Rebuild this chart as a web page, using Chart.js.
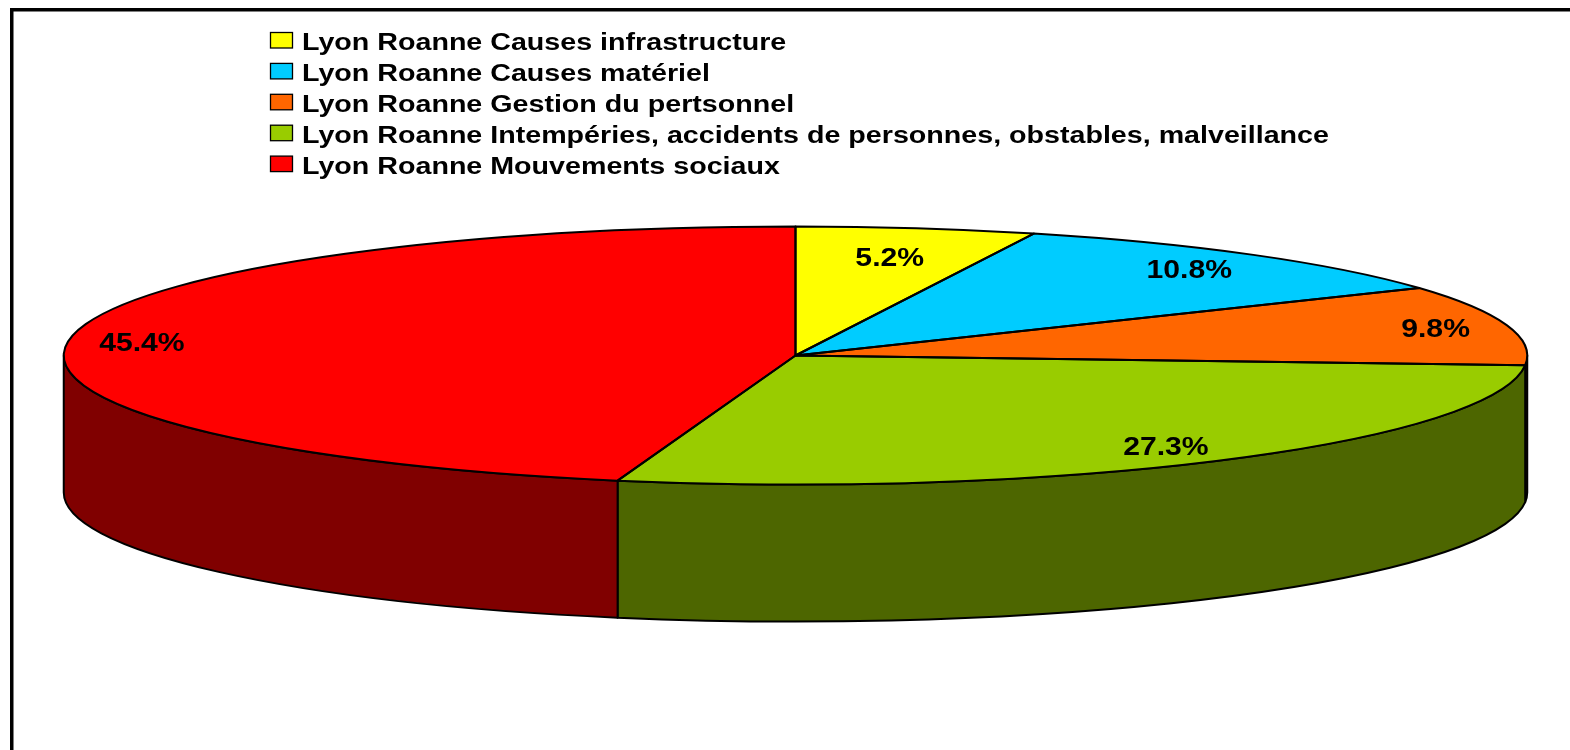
<!DOCTYPE html>
<html>
<head>
<meta charset="utf-8">
<script src="https://cdn.jsdelivr.net/npm/chart.js@4.4.1/dist/chart.umd.min.js"></script>
<style>
  html, body { margin: 0; padding: 0; background: #fff; }
  #wrap { width: 1570px; height: 750px; }
</style>
</head>
<body>
<div id="wrap"><canvas id="myChart" width="1570" height="750"></canvas></div>
<script>
// Data
const categories = [
  "Lyon Roanne Causes infrastructure",
  "Lyon Roanne Causes matériel",
  "Lyon Roanne Gestion du pertsonnel",
  "Lyon Roanne Intempéries, accidents de personnes, obstables, malveillance",
  "Lyon Roanne Mouvements sociaux",
];
const shares = [5.2, 10.8, 9.8, 27.3, 45.4];

const topColors = ["#FFFF00", "#00CCFF", "#FF6600", "#99CC00", "#FF0000"];
const sideColors = ["#808000", "#006680", "#803300", "#4D6600", "#800000"];

// where each percentage sits, as a fraction of the radius
const labelRadius = [0.78, 0.86, 0.9, 0.865, 0.9];

// tilted pie geometry
const PIE = { cx: 795.5, cy: 355.5, rx: 731.75, ry: 129, depth: 137 };
const FONT = "'Liberation Sans', Arial, sans-serif";

const pie3d = {
  id: "pie3d",
  beforeDraw(chart) {
    // outer frame (runs off the right and bottom edges)
    const ctx = chart.ctx;
    ctx.save();
    ctx.lineWidth = 3.5;
    ctx.strokeStyle = "#000";
    ctx.strokeRect(11.75, 9.75, 1700, 900);
    ctx.restore();
  },
  beforeDatasetsDraw(chart) {
    const ctx = chart.ctx;
    const arcs = chart.getDatasetMeta(0).data;
    const { cx, cy, rx, ry, depth } = PIE;

    // visible side walls (front half of the ellipse)
    ctx.save();
    ctx.lineWidth = 2;
    ctx.strokeStyle = "#000";
    ctx.lineJoin = "round";
    arcs.forEach((arc, i) => {
      const a1 = Math.max(arc.startAngle, 0);
      const a2 = Math.min(arc.endAngle, Math.PI);
      if (a2 <= a1) return;
      ctx.beginPath();
      ctx.ellipse(cx, cy, rx, ry, 0, a1, a2);
      ctx.ellipse(cx, cy + depth, rx, ry, 0, a2, a1, true);
      ctx.closePath();
      ctx.fillStyle = sideColors[i];
      ctx.fill();
      ctx.stroke();
    });
    ctx.restore();

    // squash the library's round pie into the ellipse
    const first = arcs[0];
    ctx.save();
    ctx.translate(cx, cy);
    ctx.scale(rx / first.outerRadius, ry / first.outerRadius);
    ctx.translate(-first.x, -first.y);
  },
  afterDatasetsDraw(chart) {
    const ctx = chart.ctx;
    ctx.restore();
    const arcs = chart.getDatasetMeta(0).data;
    const { cx, cy, rx, ry } = PIE;

    // slice outlines on the top face
    ctx.save();
    ctx.lineWidth = 2;
    ctx.strokeStyle = "#000";
    ctx.lineJoin = "round";
    arcs.forEach((arc) => {
      ctx.beginPath();
      ctx.moveTo(cx, cy);
      ctx.ellipse(cx, cy, rx, ry, 0, arc.startAngle, arc.endAngle);
      ctx.closePath();
      ctx.stroke();
    });

    // percentage labels
    ctx.fillStyle = "#000";
    ctx.font = "bold 26px " + FONT;
    ctx.textAlign = "center";
    ctx.textBaseline = "alphabetic";
    arcs.forEach((arc, i) => {
      const mid = (arc.startAngle + arc.endAngle) / 2;
      const f = labelRadius[i];
      const x = cx + f * rx * Math.cos(mid);
      const y = cy + f * ry * Math.sin(mid) + 9.3;
      ctx.save();
      ctx.translate(x, y);
      ctx.scale(1.16, 1);
      ctx.fillText(shares[i].toFixed(1) + "%", 0, 0);
      ctx.restore();
    });
    ctx.restore();
  },
  afterDraw(chart) {
    // legend
    const ctx = chart.ctx;
    const labels = chart.data.labels;
    const colors = chart.data.datasets[0].backgroundColor;
    ctx.save();
    ctx.font = "bold 23px " + FONT;
    ctx.textBaseline = "alphabetic";
    ctx.textAlign = "left";
    labels.forEach((text, i) => {
      const base = 50 + i * 30.9;
      ctx.fillStyle = colors[i];
      ctx.fillRect(270.5, base - 17.5, 22, 15.5);
      ctx.lineWidth = 1.3;
      ctx.strokeStyle = "#000";
      ctx.strokeRect(270.5, base - 17.5, 22, 15.5);
      ctx.save();
      ctx.translate(302, base);
      ctx.scale(1.245, 1);
      ctx.fillStyle = "#000";
      ctx.fillText(text, 0, 0);
      ctx.restore();
    });
    ctx.restore();
  },
};

const ctx = document.getElementById("myChart");
window.pieChart = new Chart(ctx, {
  type: "pie",
  data: {
    labels: categories,
    datasets: [
      {
        data: shares,
        backgroundColor: topColors,
        borderWidth: 0,
        clip: false,
      },
    ],
  },
  options: {
    responsive: false,
    animation: false,
    devicePixelRatio: 1,
    events: [],
    plugins: {
      legend: { display: false },
      tooltip: { enabled: false },
    },
  },
  plugins: [pie3d],
});
</script>
</body>
</html>
